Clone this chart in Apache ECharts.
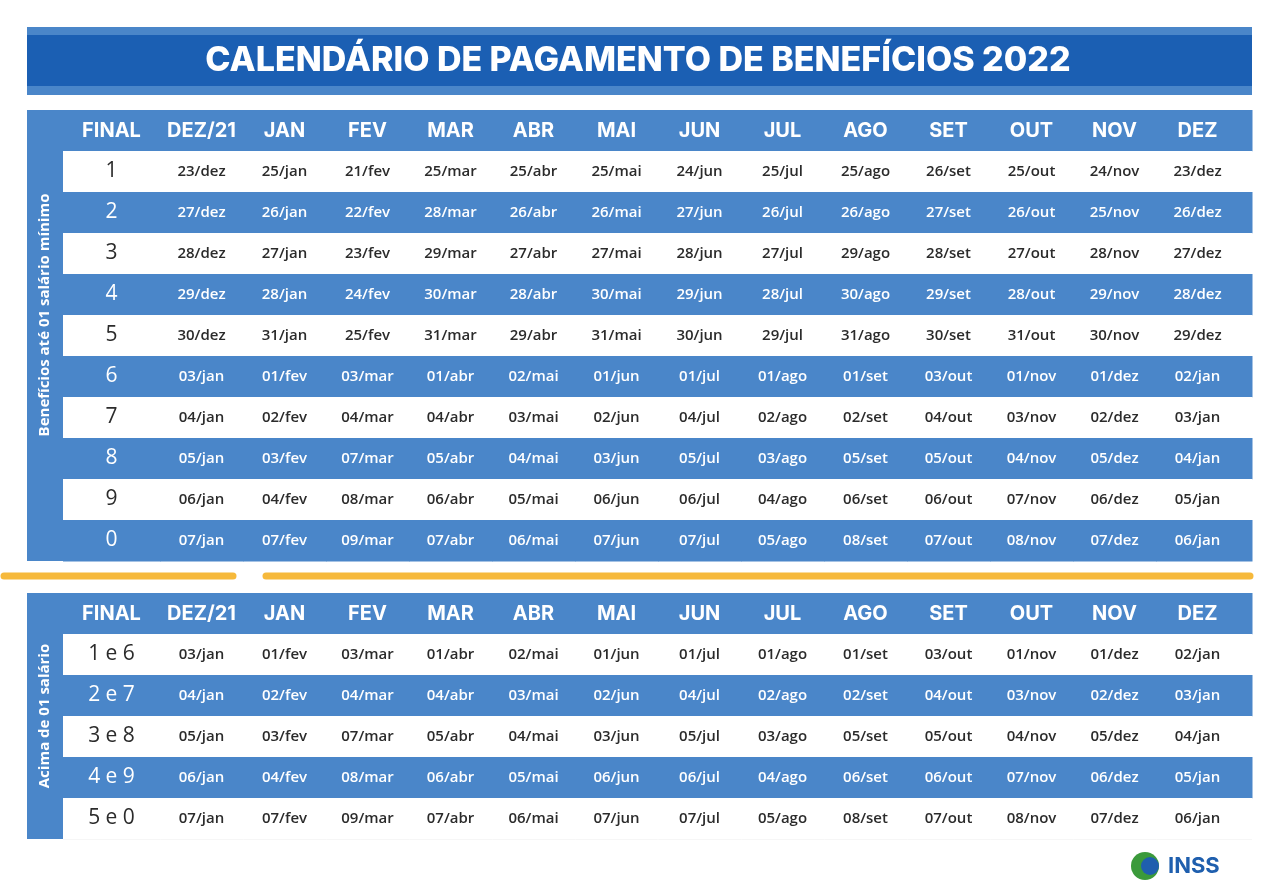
<!DOCTYPE html>
<html>
<head>
  <meta charset="utf-8"/>
  <title>Calendário de pagamento de benefícios 2022</title>
  <script src="https://cdn.jsdelivr.net/npm/echarts@6/dist/echarts.min.js"></script>
  <style>html,body{margin:0;background:#fff}#main{width:1280px;height:896px}</style>
</head>
<body>
<div id="main"></div>
<script>
// cabeçalho das colunas
var headers = ['FINAL', 'DEZ/21', 'JAN', 'FEV', 'MAR', 'ABR', 'MAI', 'JUN', 'JUL', 'AGO', 'SET', 'OUT', 'NOV', 'DEZ'];

// tabela 1: benefícios até 01 salário mínimo
var finais1 = ['1', '2', '3', '4', '5', '6', '7', '8', '9', '0'];
var row1 = ['23/dez','25/jan','21/fev','25/mar','25/abr','25/mai','24/jun','25/jul','25/ago','26/set','25/out','24/nov','23/dez'];
var row2 = ['27/dez','26/jan','22/fev','28/mar','26/abr','26/mai','27/jun','26/jul','26/ago','27/set','26/out','25/nov','26/dez'];
var row3 = ['28/dez','27/jan','23/fev','29/mar','27/abr','27/mai','28/jun','27/jul','29/ago','28/set','27/out','28/nov','27/dez'];
var row4 = ['29/dez','28/jan','24/fev','30/mar','28/abr','30/mai','29/jun','28/jul','30/ago','29/set','28/out','29/nov','28/dez'];
var row5 = ['30/dez','31/jan','25/fev','31/mar','29/abr','31/mai','30/jun','29/jul','31/ago','30/set','31/out','30/nov','29/dez'];
var row6 = ['03/jan','01/fev','03/mar','01/abr','02/mai','01/jun','01/jul','01/ago','01/set','03/out','01/nov','01/dez','02/jan'];
var row7 = ['04/jan','02/fev','04/mar','04/abr','03/mai','02/jun','04/jul','02/ago','02/set','04/out','03/nov','02/dez','03/jan'];
var row8 = ['05/jan','03/fev','07/mar','05/abr','04/mai','03/jun','05/jul','03/ago','05/set','05/out','04/nov','05/dez','04/jan'];
var row9 = ['06/jan','04/fev','08/mar','06/abr','05/mai','06/jun','06/jul','04/ago','06/set','06/out','07/nov','06/dez','05/jan'];
var row0 = ['07/jan','07/fev','09/mar','07/abr','06/mai','07/jun','07/jul','05/ago','08/set','07/out','08/nov','07/dez','06/jan'];
var table1 = [row1, row2, row3, row4, row5, row6, row7, row8, row9, row0];

// tabela 2: acima de 01 salário
var finais2 = ['1 e 6', '2 e 7', '3 e 8', '4 e 9', '5 e 0'];
var table2 = [row6, row7, row8, row9, row0];

var BLUE = '#4a86c9';
var DARK = '#1b5fb3';

function buildData(finais, rows) {
  var d = [];
  headers.forEach(function (h, c) { d.push([c, 0, h, 'head']); });
  rows.forEach(function (r, i) {
    var type = (i % 2 === 0) ? 'white' : 'blue';
    d.push([0, i + 1, finais[i], type, 'final']);
    r.forEach(function (v, c) { d.push([c + 1, i + 1, v, type]); });
  });
  return d;
}

function renderCell(items, params, api) {
  var col = api.value(0), row = api.value(1);
  var p = api.coord([col, row]);
  var s = api.size([1, 1]);
  var item = items[params.dataIndex];
  var type = item[3];
  var extL = col === 0 ? 14 : 0;
  var extR = col === 13 ? 13 : 0;
  var x = p[0] - extL, w = s[0] + extL + extR + 0.5;
  var cx = p[0] + s[0] / 2 - extL / 2;
  var fill = type === 'white' ? '#ffffff' : BLUE;
  var txtColor = type === 'white' ? '#2b2b2b' : '#ffffff';
  var font;
  if (type === 'head') font = 'bold 20px Inter, "Open Sans", sans-serif';
  else if (item[4] === 'final') font = '21px "Open Sans", sans-serif';
  else font = '600 15px "Open Sans", sans-serif';
  return {
    type: 'group',
    children: [
      { type: 'rect', shape: { x: x, y: p[1], width: w, height: s[1] + 0.5 }, style: { fill: fill } },
      { type: 'text', x: cx, y: p[1] + s[1] / 2,
        style: { text: item[2], font: font, fill: txtColor, align: 'center', verticalAlign: 'middle' } }
    ]
  };
}

var data1 = buildData(finais1, table1);
var data2 = buildData(finais2, table2);

var chart = echarts.init(document.getElementById('main'));
function mkSeries(data, gi) {
  return {
    type: 'custom', xAxisIndex: gi, yAxisIndex: gi, silent: true,
    renderItem: function (params, api) { return renderCell(data, params, api); },
    encode: { x: 0, y: 1 },
    data: data.map(function (d) { return [d[0], d[1]]; })
  };
}
chart.setOption({
  animation: false,
  grid: [
    { left: 77, width: 1162, top: 110, height: 451 },
    { left: 77, width: 1162, top: 593, height: 246 }
  ],
  xAxis: [
    { type: 'value', gridIndex: 0, min: 0, max: 14, show: false },
    { type: 'value', gridIndex: 1, min: 0, max: 14, show: false }
  ],
  yAxis: [
    { type: 'value', gridIndex: 0, min: 0, max: 11, inverse: true, show: false },
    { type: 'value', gridIndex: 1, min: 0, max: 6, inverse: true, show: false }
  ],
  series: [mkSeries(data1, 0), mkSeries(data2, 1)],
  graphic: [
    { type: 'rect', shape: { x: 27, y: 27, width: 1225, height: 68 }, style: { fill: BLUE } },
    { type: 'rect', shape: { x: 27, y: 35, width: 1225, height: 51 }, style: { fill: DARK } },
    { type: 'text', x: 638, y: 61, style: { text: 'CALENDÁRIO DE PAGAMENTO DE BENEFÍCIOS 2022',
      font: '800 34px Inter, "Open Sans", sans-serif', fill: '#fff', align: 'center', verticalAlign: 'middle' } },
    { type: 'rect', shape: { x: 27, y: 110, width: 36, height: 451 }, style: { fill: BLUE } },
    { type: 'text', x: 45, y: 315, rotation: Math.PI / 2, style: { text: 'Benefícios até 01 salário mínimo',
      font: 'bold 15px "Open Sans", sans-serif', fill: '#fff', align: 'center', verticalAlign: 'middle' } },
    { type: 'rect', shape: { x: 27, y: 593, width: 36, height: 246 }, style: { fill: BLUE } },
    { type: 'text', x: 45, y: 716, rotation: Math.PI / 2, style: { text: 'Acima de 01 salário',
      font: 'bold 15px "Open Sans", sans-serif', fill: '#fff', align: 'center', verticalAlign: 'middle' } },
    { type: 'line', shape: { x1: 4, y1: 576, x2: 233, y2: 576 }, style: { stroke: '#f6b93b', lineWidth: 7, lineCap: 'round' } },
    { type: 'line', shape: { x1: 266, y1: 576, x2: 1250, y2: 576 }, style: { stroke: '#f6b93b', lineWidth: 7, lineCap: 'round' } },
    { type: 'line', shape: { x1: 63, y1: 839, x2: 1252, y2: 839 }, style: { stroke: '#dddddd', lineWidth: 1 } },
    { type: 'circle', shape: { cx: 1145, cy: 866, r: 14 }, style: { fill: '#3b9a3b' } },
    { type: 'circle', shape: { cx: 1150, cy: 866, r: 9 }, style: { fill: '#1f5fae' } },
    { type: 'text', x: 1168, y: 866, style: { text: 'INSS', font: 'bold 22px Inter, sans-serif', fill: '#1f5fae', verticalAlign: 'middle' } }
  ]
});
</script>
</body>
</html>
